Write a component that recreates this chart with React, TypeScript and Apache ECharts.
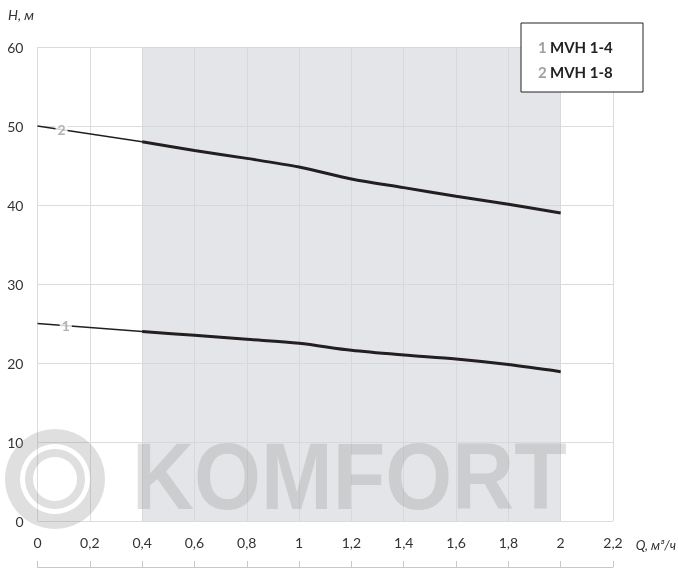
import React, { useEffect, useRef } from "react";
import * as echarts from "echarts";

const xTicks = [0, 0.2, 0.4, 0.6, 0.8, 1, 1.2, 1.4, 1.6, 1.8, 2, 2.2];
const qThin = [0, 0.4];
const h1Thin = [25, 24];
const h2Thin = [50, 48];
const qWork = [0.4, 0.6, 0.8, 1.0, 1.2, 1.4, 1.6, 1.8, 2.0];
const h1Work = [24, 23.5, 23, 22.5, 21.6, 21, 20.5, 19.8, 18.9];
const h2Work = [48, 46.9, 45.9, 44.8, 43.3, 42.2, 41.1, 40.1, 39];
const curveLabels = [
  { name: "1", q: 0.108, h: 24.8 },
  { name: "2", q: 0.092, h: 49.6 },
];
const legendItems = [
  { num: "1", name: "MVH 1-4" },
  { num: "2", name: "MVH 1-8" },
];
const workRange = [0.4, 2];

const fmt = (v: number) => String(Math.round(v * 10) / 10).replace(".", ",");
const zip = (xs: number[], ys: number[]) => xs.map((x, i) => [x, ys[i]]);

export default function App() {
  const ref = useRef<HTMLDivElement>(null);
  useEffect(() => {
    if (!ref.current) return;
    const chart = echarts.init(ref.current, null, { renderer: "svg" });
    const lineColor = "#231f20";
    const wm = "rgba(150,150,150,0.3)";
    const font = "Lato, 'Open Sans', sans-serif";
    chart.setOption({
      animation: false,
      grid: { left: 37.5, right: 65, top: 47, bottom: 52 },
      xAxis: [
        {
          type: "value",
          min: 0,
          max: 2.2,
          interval: 0.2,
          axisLine: { show: false },
          axisTick: { show: false },
          splitLine: { show: true, lineStyle: { color: "#dcdcdc", width: 1 } },
          axisLabel: {
            margin: 14,
            color: "#333",
            fontSize: 14,
            fontFamily: font,
            formatter: (v: number) => fmt(v),
          },
        },
        {
          type: "value",
          min: 0,
          max: 2.2,
          interval: 0.2,
          position: "bottom",
          offset: 46,
          axisLine: { show: true, lineStyle: { color: "#c8c8c8", width: 1 } },
          axisTick: { show: true, inside: true, length: 6, lineStyle: { color: "#c8c8c8" } },
          axisLabel: { show: false },
          splitLine: { show: false },
        },
      ],
      yAxis: {
        type: "value",
        min: 0,
        max: 60,
        interval: 10,
        axisLine: { show: false },
        axisTick: { show: false },
        splitLine: { show: true, lineStyle: { color: "#dcdcdc", width: 1 } },
        axisLabel: { margin: 14, color: "#333", fontSize: 14, fontFamily: font },
      },
      series: [
        {
          type: "line",
          data: zip(qWork, h2Work),
          smooth: 0.3,
          symbol: "none",
          lineStyle: { color: lineColor, width: 3 },
          z: 3,
          markArea: {
            silent: true,
            itemStyle: { color: "rgba(212,214,218,0.63)" },
            data: [[{ xAxis: workRange[0], yAxis: 0 }, { xAxis: workRange[1], yAxis: 60 }]],
          },
        },
        {
          type: "line",
          data: zip(qWork, h1Work),
          smooth: 0.3,
          symbol: "none",
          lineStyle: { color: lineColor, width: 3 },
          z: 3,
        },
        {
          type: "line",
          data: zip(qThin, h2Thin),
          symbol: "none",
          lineStyle: { color: lineColor, width: 1.5 },
          z: 3,
        },
        {
          type: "line",
          data: zip(qThin, h1Thin),
          symbol: "none",
          lineStyle: { color: lineColor, width: 1.5 },
          z: 3,
        },
        {
          type: "scatter",
          symbolSize: 0,
          z: 4,
          data: curveLabels.map((c) => ({ value: [c.q, c.h], name: c.name })),
          label: {
            show: true,
            position: "inside",
            formatter: (p: any) => p.name,
            color: "#a0a0a0",
            fontSize: 14,
            fontWeight: "bold",
            fontFamily: font,
            backgroundColor: "#fff",
            padding: [0, 2],
          },
        },
      ],
      graphic: [
        {
          type: "text",
          left: 8,
          top: 7,
          style: { text: "H, м", fontSize: 14, fontStyle: "italic", fill: "#333", fontFamily: font },
        },
        {
          type: "text",
          right: 2,
          top: 538,
          style: { text: "Q, м³/ч", fontSize: 13, fontStyle: "italic", fill: "#333", fontFamily: font },
        },
        {
          type: "rect",
          shape: { x: 521, y: 23, width: 122, height: 69 },
          style: { fill: "#fff", stroke: "#222", lineWidth: 1 },
          z: 10,
        },
        ...legendItems.map((it, i) => ({
          type: "text",
          x: 538,
          y: 47 + i * 25,
          z: 11,
          style: {
            text: `{n|${it.num}} {b|${it.name}}`,
            verticalAlign: "middle",
            rich: {
              n: { fill: "#a0a0a0", fontSize: 15, fontWeight: "bold", fontFamily: font },
              b: { fill: "#222", fontSize: 15, fontWeight: "bold", fontFamily: font },
            },
          },
        })),
        {
          type: "ring",
          shape: { cx: 55, cy: 479, r: 50, r0: 35 },
          style: { fill: wm },
          z: 20,
          silent: true,
        },
        {
          type: "ring",
          shape: { cx: 55, cy: 479, r: 30, r0: 22 },
          style: { fill: wm },
          z: 20,
          silent: true,
        },
        {
          type: "text",
          x: 132,
          y: 476.5,
          scaleX: 0.915,
          z: 20,
          silent: true,
          style: {
            text: "KOMFORT",
            fontSize: 94,
            fontWeight: "bold",
            fontFamily: "'Liberation Sans', Arial, sans-serif",
            fill: wm,
            verticalAlign: "middle",
          },
        },
      ],
    });
    return () => chart.dispose();
  }, []);
  return (
    <div
      ref={ref}
      style={{ position: "fixed", left: 0, top: 0, width: 678, height: 573 }}
    />
  );
}
